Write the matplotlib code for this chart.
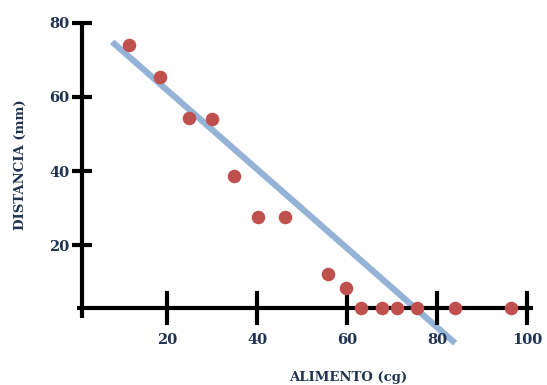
import matplotlib.pyplot as plt

# data
alimento = [11.6, 18.4, 24.9, 30.0, 34.9, 40.2, 46.2, 55.8, 59.8,
            63.1, 67.8, 71.1, 75.6, 84.0, 96.4]
distancia = [74.1, 65.4, 54.3, 54.1, 38.6, 27.6, 27.6, 12.2, 8.4,
             3.0, 3.0, 3.0, 3.0, 3.0, 3.0]
trend_x = [7.8, 84.0]
trend_y = [74.9, -6.5]
xticks = [20, 40, 60, 80, 100]
yticks = [20, 40, 60, 80]

navy = '#1f3350'
fig = plt.figure(figsize=(5.47, 3.85), dpi=100)
ax = fig.add_axes([0, 0, 1, 1])
ax.set_xlim(-17.1, 104.4)
ax.set_ylim(-17.8, 86.2)

# trend line sits under the axes and labels, markers on top
ax.plot(trend_x, trend_y, color='#95b3d7', lw=4.5, solid_capstyle='butt', zorder=1)
ax.scatter(alimento, distancia, s=95, color='#c0504d', zorder=4, linewidths=0)

for s in ['top', 'right']:
    ax.spines[s].set_visible(False)
ax.spines['left'].set_position(('data', 1.1))
ax.spines['bottom'].set_position(('data', 3.0))
ax.spines['left'].set_bounds(0.3, 80)
ax.spines['bottom'].set_bounds(0.0, 101.3)
for s in ['left', 'bottom']:
    ax.spines[s].set_linewidth(3)
    ax.spines[s].set_capstyle('butt')

ax.set_xticks(xticks)
ax.set_yticks(yticks)
ax.tick_params(axis='x', direction='inout', length=24, width=3, pad=6)
ax.tick_params(axis='y', direction='inout', length=14.5, width=3, pad=2)
for lab in ax.get_xticklabels() + ax.get_yticklabels():
    lab.set_family('DejaVu Serif')
    lab.set_fontweight('bold')
    lab.set_fontsize(10.5)
    lab.set_color(navy)

fig.text(348 / 547, 1 - 377 / 385, 'ALIMENTO (cg)', ha='center', va='center',
         family='DejaVu Serif', weight='bold', fontsize=9.5, color=navy)
fig.text(20 / 547, 1 - 165 / 385, 'DISTANCIA (mm)', ha='center', va='center',
         rotation=90, family='DejaVu Serif', weight='bold', fontsize=9.5, color=navy)

fig.savefig('out.png', dpi=100)
